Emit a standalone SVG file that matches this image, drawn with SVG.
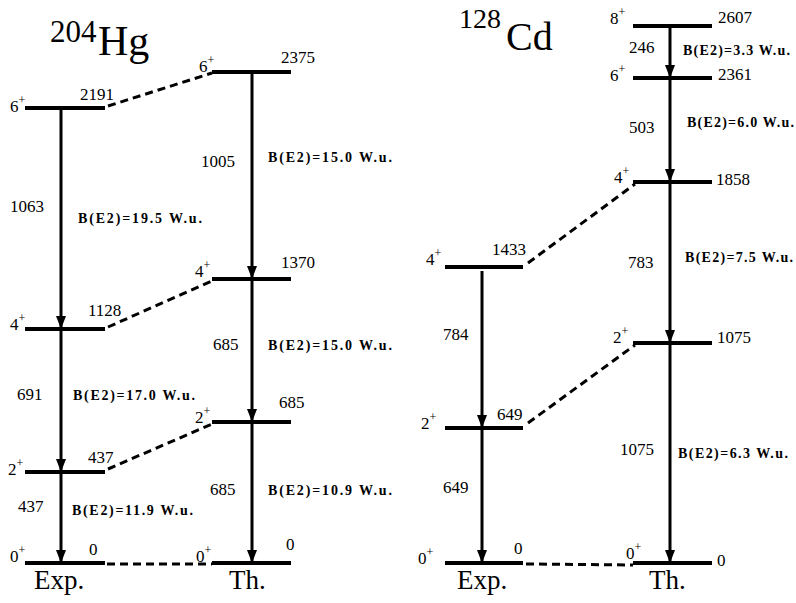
<svg xmlns="http://www.w3.org/2000/svg" width="796" height="603" viewBox="0 0 796 603" font-family="'Liberation Serif', 'DejaVu Serif', 'Times New Roman', serif">
<style>
text,tspan{font-family:"Liberation Serif","DejaVu Serif","Times New Roman",serif;fill:#000}
.lv{stroke:#000;stroke-width:4;fill:none}
.tr{stroke:#000;stroke-width:3;fill:none}
.ds{stroke:#000;stroke-width:3;fill:none;stroke-dasharray:8 5}
.n{font-size:17px}
.sp{font-size:17px}
.be{font-size:14px;font-weight:bold}
.ax{font-size:27px}
</style>
<defs>
<marker id="ah" viewBox="0 0 13 10" refX="13" refY="5" markerWidth="13" markerHeight="10" markerUnits="userSpaceOnUse" orient="auto">
<path d="M0,0 L13,5 L0,10 Z" fill="#000"/>
</marker>
</defs>
<rect width="796" height="603" fill="#fff"/>

<g id="title-hg"><text x="50" y="42" font-size="31">204</text><text x="98" y="55" font-size="42">Hg</text></g>
<g id="title-cd"><text x="459" y="28" font-size="28">128</text><text x="506" y="50" font-size="40">Cd</text></g>

<!-- Hg Exp -->
<g id="hg-exp-6"><line class="lv" x1="25" y1="108" x2="105" y2="108"/><text class="sp" x="10" y="112">6<tspan font-size="12" dy="-8">+</tspan></text><text class="n" x="80" y="100">2191</text></g>
<g id="hg-exp-4"><line class="lv" x1="25" y1="329" x2="105" y2="329"/><text class="sp" x="10" y="330">4<tspan font-size="12" dy="-8">+</tspan></text><text class="n" x="88" y="316">1128</text></g>
<g id="hg-exp-2"><line class="lv" x1="25" y1="472" x2="105" y2="472"/><text class="sp" x="8" y="475">2<tspan font-size="12" dy="-8">+</tspan></text><text class="n" x="88" y="463">437</text></g>
<g id="hg-exp-0"><line class="lv" x1="25" y1="563" x2="105" y2="563"/><text class="sp" x="10" y="562">0<tspan font-size="12" dy="-8">+</tspan></text><text class="n" x="89" y="555">0</text><text class="ax" x="34" y="589">Exp.</text></g>

<!-- Hg Th -->
<g id="hg-th-6"><line class="lv" x1="212" y1="72" x2="291" y2="72"/><text class="sp" x="199" y="72">6<tspan font-size="12" dy="-8">+</tspan></text><text class="n" x="281" y="63">2375</text></g>
<g id="hg-th-4"><line class="lv" x1="212" y1="279" x2="291" y2="279"/><text class="sp" x="195" y="277">4<tspan font-size="12" dy="-8">+</tspan></text><text class="n" x="281" y="268">1370</text></g>
<g id="hg-th-2"><line class="lv" x1="212" y1="422" x2="291" y2="422"/><text class="sp" x="195" y="423">2<tspan font-size="12" dy="-8">+</tspan></text><text class="n" x="279" y="408">685</text></g>
<g id="hg-th-0"><line class="lv" x1="212" y1="563" x2="291" y2="563"/><text class="sp" x="196" y="562">0<tspan font-size="12" dy="-8">+</tspan></text><text class="n" x="286" y="550">0</text><text class="ax" x="229" y="589">Th.</text></g>

<!-- Cd Exp -->
<g id="cd-exp-4"><line class="lv" x1="445" y1="267" x2="523" y2="267"/><text class="sp" x="426" y="265">4<tspan font-size="12" dy="-8">+</tspan></text><text class="n" x="492" y="255">1433</text></g>
<g id="cd-exp-2"><line class="lv" x1="445" y1="428" x2="523" y2="428"/><text class="sp" x="421" y="429">2<tspan font-size="12" dy="-8">+</tspan></text><text class="n" x="497" y="420">649</text></g>
<g id="cd-exp-0"><line class="lv" x1="445" y1="563" x2="523" y2="563"/><text class="sp" x="418" y="564">0<tspan font-size="12" dy="-8">+</tspan></text><text class="n" x="514" y="554">0</text><text class="ax" x="457" y="589">Exp.</text></g>

<!-- Cd Th -->
<g id="cd-th-8"><line class="lv" x1="633" y1="26" x2="712" y2="26"/><text class="sp" x="610" y="24">8<tspan font-size="12" dy="-8">+</tspan></text><text class="n" x="718" y="23">2607</text></g>
<g id="cd-th-6"><line class="lv" x1="633" y1="78" x2="712" y2="78"/><text class="sp" x="610" y="81">6<tspan font-size="12" dy="-8">+</tspan></text><text class="n" x="718" y="80">2361</text></g>
<g id="cd-th-4"><line class="lv" x1="633" y1="182" x2="712" y2="182"/><text class="sp" x="614" y="183">4<tspan font-size="12" dy="-8">+</tspan></text><text class="n" x="716" y="185">1858</text></g>
<g id="cd-th-2"><line class="lv" x1="633" y1="343" x2="712" y2="343"/><text class="sp" x="613" y="343">2<tspan font-size="12" dy="-8">+</tspan></text><text class="n" x="717" y="343">1075</text></g>
<g id="cd-th-0"><line class="lv" x1="633" y1="563" x2="712" y2="563"/><text class="sp" x="626" y="559">0<tspan font-size="12" dy="-8">+</tspan></text><text class="n" x="717" y="566">0</text><text class="ax" x="649" y="589">Th.</text></g>

<g id="connectors">
<line class="tr" x1="61" y1="110" x2="61" y2="329" marker-end="url(#ah)"/>
<line class="tr" x1="61" y1="331" x2="61" y2="472" marker-end="url(#ah)"/>
<line class="tr" x1="61" y1="474" x2="61" y2="563" marker-end="url(#ah)"/>
<line class="tr" x1="252" y1="74" x2="252" y2="279" marker-end="url(#ah)"/>
<line class="tr" x1="252" y1="281" x2="252" y2="422" marker-end="url(#ah)"/>
<line class="tr" x1="252" y1="424" x2="252" y2="563" marker-end="url(#ah)"/>
<line class="tr" x1="482" y1="271" x2="482" y2="428" marker-end="url(#ah)"/>
<line class="tr" x1="482" y1="430" x2="482" y2="563" marker-end="url(#ah)"/>
<line class="tr" x1="670" y1="28" x2="670" y2="78" marker-end="url(#ah)"/>
<line class="tr" x1="670" y1="80" x2="670" y2="182" marker-end="url(#ah)"/>
<line class="tr" x1="670" y1="184" x2="670" y2="343" marker-end="url(#ah)"/>
<line class="tr" x1="670" y1="345" x2="670" y2="563" marker-end="url(#ah)"/>
<line class="ds" x1="108" y1="106" x2="212" y2="73"/>
<line class="ds" x1="108" y1="327" x2="212" y2="281"/>
<line class="ds" x1="108" y1="469" x2="212" y2="424"/>
<line class="ds" x1="107" y1="564" x2="212" y2="564"/>
<line class="ds" x1="528" y1="263" x2="635" y2="184"/>
<line class="ds" x1="528" y1="423" x2="635" y2="345"/>
<line class="ds" x1="526" y1="564" x2="633" y2="565"/>
</g>

<g id="labels">
<text class="n" x="10" y="212">1063</text>
<text class="be" x="78" y="223" textLength="124">B(E2)=19.5 W.u.</text>
<text class="n" x="201" y="167">1005</text>
<text class="be" x="268" y="162" textLength="124">B(E2)=15.0 W.u.</text>
<text class="n" x="17" y="400">691</text>
<text class="be" x="73" y="400" textLength="122">B(E2)=17.0 W.u.</text>
<text class="n" x="213" y="350">685</text>
<text class="be" x="268" y="350" textLength="124">B(E2)=15.0 W.u.</text>
<text class="n" x="18" y="512">437</text>
<text class="be" x="72" y="515" textLength="121">B(E2)=11.9 W.u.</text>
<text class="n" x="210" y="495">685</text>
<text class="be" x="268" y="495" textLength="124">B(E2)=10.9 W.u.</text>
<text class="n" x="629" y="53">246</text>
<text class="be" x="683" y="55" textLength="107">B(E2)=3.3 W.u.</text>
<text class="n" x="629" y="133">503</text>
<text class="be" x="687" y="127" textLength="107">B(E2)=6.0 W.u.</text>
<text class="n" x="628" y="268">783</text>
<text class="be" x="685" y="262" textLength="108">B(E2)=7.5 W.u.</text>
<text class="n" x="620" y="455">1075</text>
<text class="be" x="678" y="458" textLength="110">B(E2)=6.3 W.u.</text>
<text class="n" x="443" y="340">784</text>
<text class="n" x="443" y="493">649</text>
</g>
</svg>
